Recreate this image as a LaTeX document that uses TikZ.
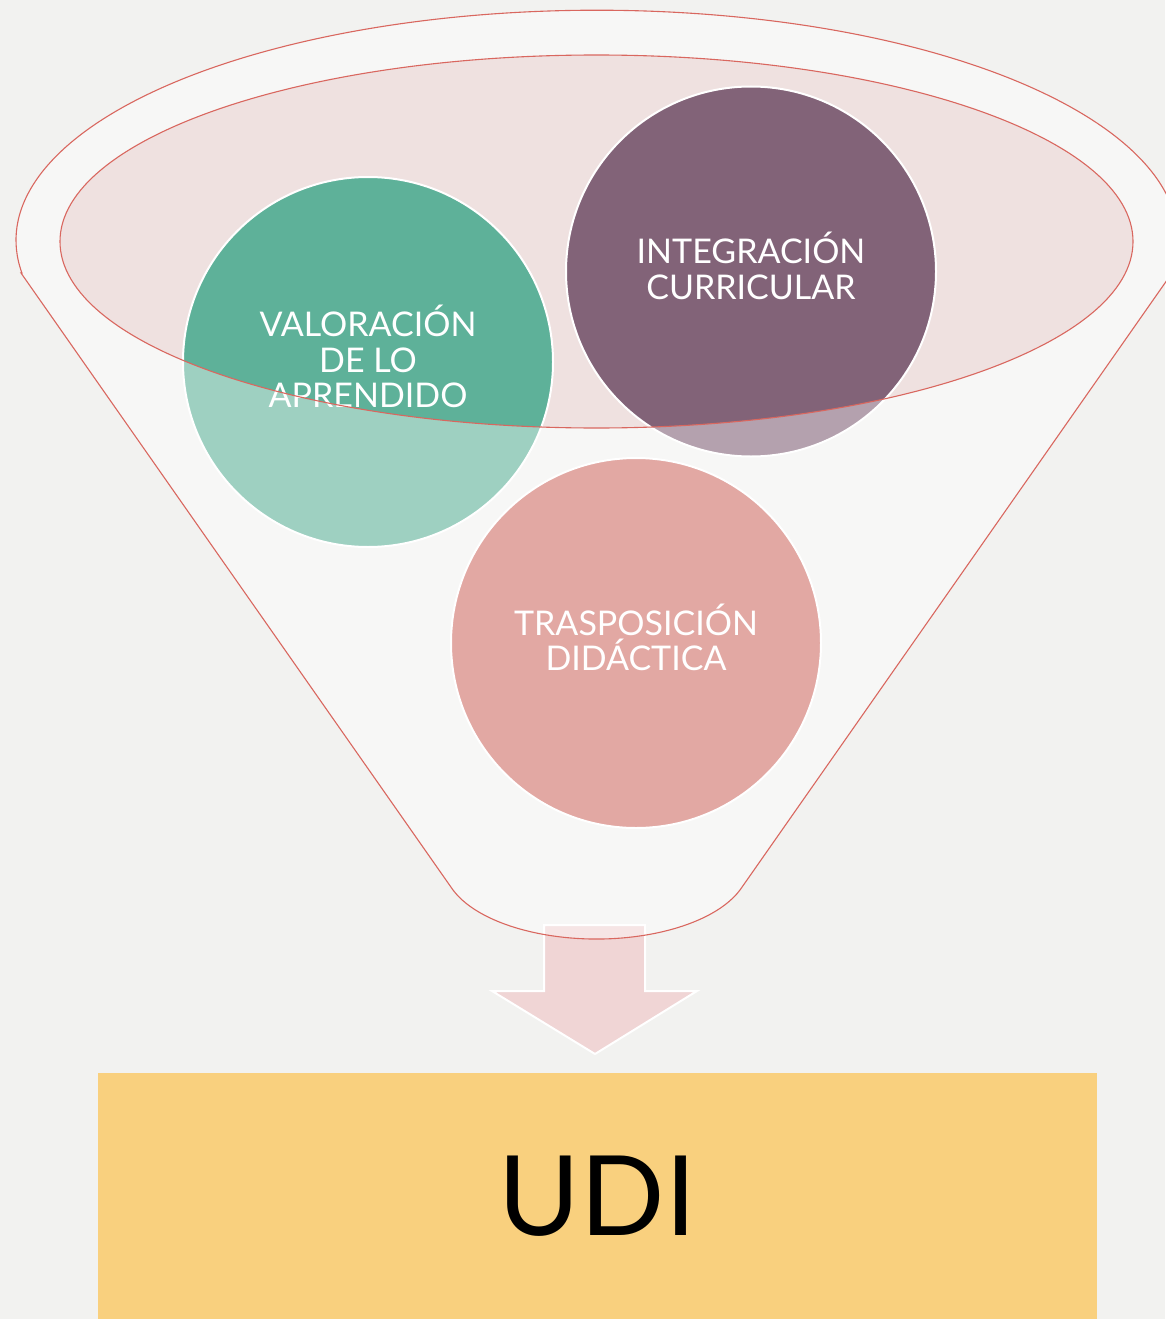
\documentclass[tikz,border=0pt]{standalone}
\usepackage{fontspec}
\setmainfont{Lato}
\usepackage{tikz}
\usetikzlibrary{positioning,calc}

\definecolor{paper}{HTML}{F2F2F0}
\definecolor{rim}{HTML}{D9675F}
\definecolor{mouth}{HTML}{EFE1E0}
\definecolor{valor}{HTML}{5EB199}
\definecolor{integ}{HTML}{826378}
\definecolor{trasp}{HTML}{D06E66}
\definecolor{drop}{HTML}{F0D5D5}
\definecolor{udibox}{HTML}{F9D07E}

\begin{document}
\begin{tikzpicture}[x=1pt, y=-1pt,
    bubble/.style={circle, draw=white, line width=2pt, minimum size=370pt,
        text=white, align=center, text depth=11pt, font=\fontsize{34}{35.5}\selectfont},
    rimline/.style={draw=rim, line width=1.1pt}]
    \useasboundingbox (0,0) rectangle (1165,1319);
    \fill[paper] (0,0) rectangle (1165,1319);

    % Mouth of the funnel
    \fill[mouth] (596.5,241.5) ellipse [x radius=536.5, y radius=186.5];

    % Bubbles
    \node[bubble, fill=valor] (valor) at (368,362) {VALORACIÓN\\DE LO\\APRENDIDO};
    \node[bubble, fill=integ] (integ) at (751,271.5) {INTEGRACIÓN\\CURRICULAR};
    \node[bubble, fill=trasp] (trasp) at (636,643) {TRASPOSICIÓN\\DIDÁCTICA};

    % Arrow out of the funnel
    \draw[fill=drop, draw=white, line width=2pt, line join=miter]
        (544,925) -- (645,925) -- (645,991) -- (697,991) -- (595,1054)
        -- (492,991) -- (544,991) -- cycle;

    % Funnel body (lightens what lies behind it)
    \fill[white, opacity=0.4, even odd rule]
        (21,273) -- (453,890)
        arc [start angle=160, end angle=20, x radius=152.7, y radius=74.5]
        -- (1172,273)
        arc [start angle=8.2, end angle=-188.2, x radius=581, y radius=230] -- cycle
        (596.5,241.5) ellipse [x radius=536.5, y radius=186.5];

    % Outlines
    \draw[rimline] (21,273) -- (453,890)
        arc [start angle=160, end angle=20, x radius=152.7, y radius=74.5]
        -- (1172,273)
        arc [start angle=8.2, end angle=-188.2, x radius=581, y radius=230] -- cycle;
    \draw[rimline] (596.5,241.5) ellipse [x radius=536.5, y radius=186.5];

    % Result
    \node[fill=udibox, minimum width=999pt, minimum height=246pt, inner sep=0pt,
        font=\fontsize{111}{111}\selectfont] (udi) at (597.5,1196) {UDI};
\end{tikzpicture}
\end{document}
